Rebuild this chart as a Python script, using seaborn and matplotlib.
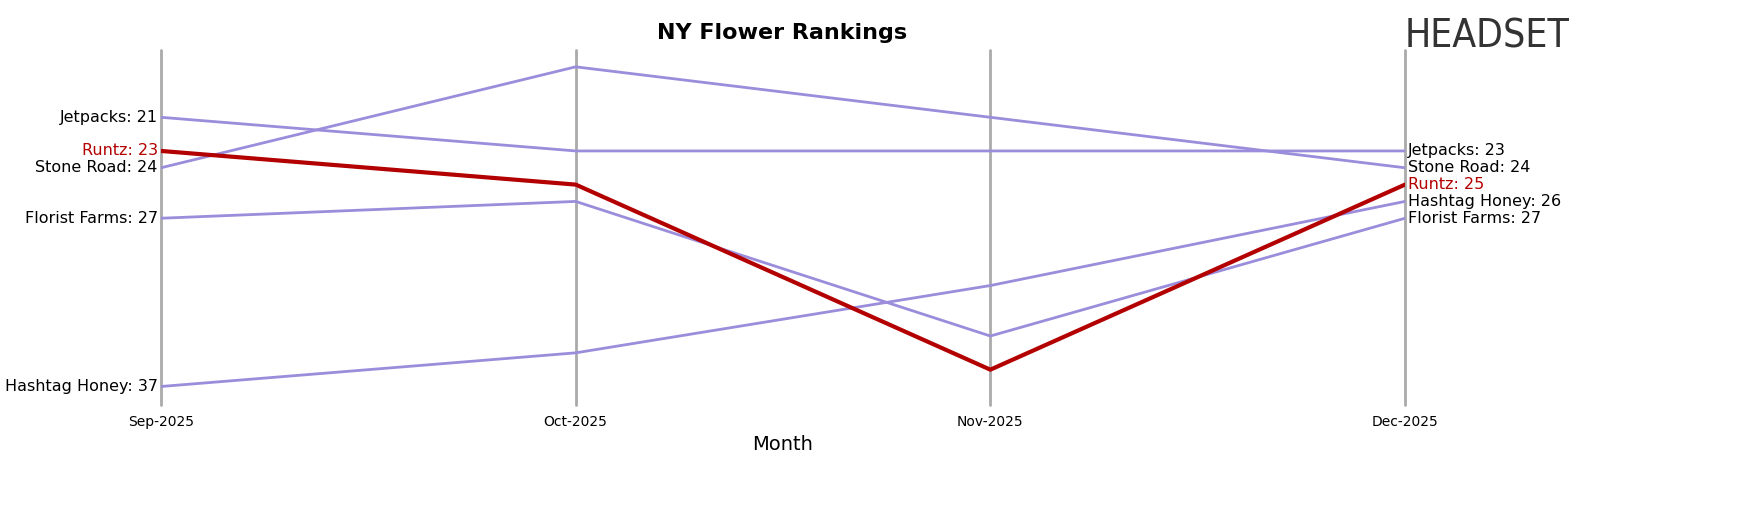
import matplotlib
matplotlib.use("Agg")
import matplotlib.pyplot as plt
import seaborn as sns
import pandas as pd

months = ["Sep-2025", "Oct-2025", "Nov-2025", "Dec-2025"]
brands = ["Jetpacks", "Stone Road", "Runtz", "Florist Farms", "Hashtag Honey"]
jetpacks = [21, 23, 23, 23]
stone_road = [24, 18, 21, 24]
runtz = [23, 25, 36, 25]
florist_farms = [27, 26, 34, 27]
hashtag_honey = [37, 35, 31, 26]
series = [jetpacks, stone_road, runtz, florist_farms, hashtag_honey]

rows = []
for b, vals in zip(brands, series):
    for i, v in enumerate(vals):
        rows.append({"Brand": b, "x": i, "Rank": v})
df = pd.DataFrame(rows)

sns.set_style("white")
fig = plt.figure(figsize=(17.48, 5.07), dpi=100)
ax = fig.add_axes([161/1748, 102/507, (1405-161)/1748, (457-102)/507])
palette = {b: ("#b30000" if b == "Runtz" else "#9b8ddb") for b in brands}
for b in brands:
    sub = df[df.Brand == b]
    sns.lineplot(data=sub, x="x", y="Rank", ax=ax, color=palette[b],
                 lw=3 if b == "Runtz" else 2, zorder=3 if b == "Runtz" else 2, legend=False)
for i in range(4):
    ax.axvline(i, color="#aaaaaa", lw=2, zorder=1, clip_on=False)
ax.set_ylim(38.1, 17.0)
ax.set_xlim(0, 3)
ax.set_yticks([])
ax.set_xticks(range(4))
ax.set_xticklabels(months, fontsize=10, color="black")
ax.tick_params(axis="x", length=4, color="#444444")
ax.set_xlabel("Month", fontsize=14, color="black")
ax.set_ylabel("")
for s in ax.spines.values():
    s.set_visible(False)
for b, vals in zip(brands, series):
    c = "#b30000" if b == "Runtz" else "black"
    ax.text(-0.008, vals[0], f"{b}: {vals[0]}", ha="right", va="center", fontsize=11.5, color=c)
    ax.text(3.008, vals[3], f"{b}: {vals[3]}", ha="left", va="center", fontsize=11.5, color=c)
fig.text(782/1748, 1-33/507, "NY Flower Rankings", ha="center", va="center", fontsize=16, fontweight="bold", color="black")
fig.text(1405/1748, 1-36/507, "HEADSET", ha="left", va="center", fontsize=28, color="#333333", family="DejaVu Sans", fontstretch="condensed")
fig.savefig("out.png", dpi=100)
